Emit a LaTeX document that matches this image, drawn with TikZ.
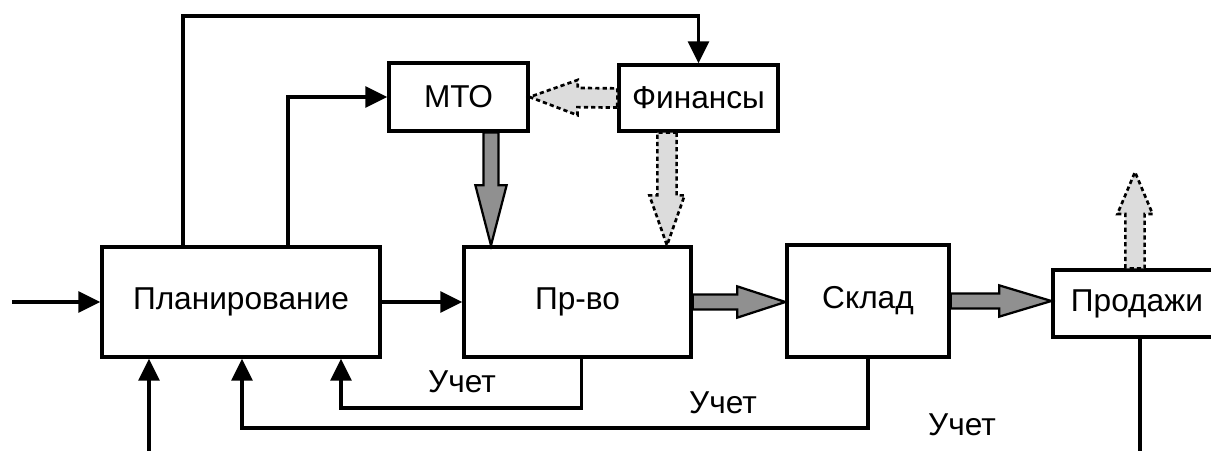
\documentclass[tikz,border=0pt]{standalone}
\usepackage{fontspec}
\setmainfont{Liberation Sans}
\usepackage{xcolor}
\usepackage{tikz}
\usetikzlibrary{arrows.meta,calc}
\definecolor{flowGrey}{HTML}{909090}
\definecolor{cashGrey}{HTML}{DCDCDC}

\tikzset{
  block/.style={draw,line width=2.3pt,inner sep=0pt,font=\fontsize{22.5}{27}\selectfont},
  note/.style={inner sep=0pt,font=\fontsize{22.5}{27}\selectfont},
  link/.style={line width=2.3pt,-{Triangle[length=5.5mm,width=5.2mm]}},
  fatarrow/.style n args={3}{to path={
      let \p1=(\tikztostart), \p2=(\tikztotarget),
          \n1={atan2(\y2-\y1,\x2-\x1)}, \n2={veclen(\x2-\x1,\y2-\y1)} in
      ($(\p1)+(\n1+90:#1)$) -- ($(\p1)+(\n1:\n2-#3)+(\n1+90:#1)$)
      -- ($(\p1)+(\n1:\n2-#3)+(\n1+90:#2)$) -- (\p2)
      -- ($(\p1)+(\n1:\n2-#3)+(\n1-90:#2)$) -- ($(\p1)+(\n1:\n2-#3)+(\n1-90:#1)$)
      -- ($(\p1)+(\n1-90:#1)$) -- cycle}},
  flow/.style={fatarrow={0.19cm}{0.39cm}{#1},draw,fill=flowGrey,line width=1.6pt},
  flow/.default=1.3cm,
  cash/.style={fatarrow={0.24cm}{0.44cm}{#1},draw,fill=cashGrey,line width=1.9pt,
    dash pattern=on 3pt off 2.2pt},
  cash/.default=1.2cm,
}

\begin{document}
\begin{tikzpicture}[x=0.025cm,y=-0.025cm]
    \useasboundingbox (0,0) rectangle (1211,451);
    \node[block,minimum width=6.95cm,minimum height=2.75cm] (plan) at (241,302) {Планирование};
    \node[block,minimum width=5.675cm,minimum height=2.75cm] (prod) at (577.5,302) {Пр-во};
    \node[block,minimum width=4.05cm,minimum height=2.8cm] (sklad) at (868,301) {Склад};
    \node[block,minimum width=4.2cm,minimum height=1.675cm] (sales) at (1137,303.5) {Продажи};
    \node[block,minimum width=3.475cm,minimum height=1.7cm] (mto) at (458.5,97) {МТО};
    \node[block,minimum width=3.975cm,minimum height=1.65cm] (fin) at (698.5,98) {Финансы};

    \node[note] (countA) at (462,382) {Учет};
    \node[note] (countB) at (723,403) {Учет};
    \node[note] (countC) at (962,425) {Учет};

    \coordinate (inlet) at (12,302);
    \coordinate (topline) at (183,16);
    \coordinate (mtoline) at (288,99);
    \coordinate (mtoout) at (491,0);
    \coordinate (finout) at (667,0);
    \coordinate (salesout) at (1135,172);
    \coordinate (loopA) at (341,408);
    \coordinate (loopB) at (242,428);
    \coordinate (loopC) at (149,453);

    \draw[link] (inlet) -- (plan.west);
    \draw[link] (plan.east) -- (prod.west);
    \draw[link] (topline |- plan.north) -- (topline) -| (fin.north);
    \draw[link] (mtoline |- plan.north) |- (mto.west);
    \draw[cash] (fin.west) to (mto.east);
    \draw[flow=1.5cm] (mtoout |- mto.south) to (mtoout |- prod.north);
    \draw[cash=1.25cm] (finout |- fin.south) to (finout |- prod.north);
    \draw[flow=1.2cm] (prod.east) to (prod.east -| sklad.west);
    \draw[flow] (sklad.east) to (sklad.east -| sales.west);
    \draw[cash=1.05cm] (salesout |- sales.north) to (salesout);

    \draw[link] ([xshift=0.1cm]prod.south) |- (loopA) -- (loopA |- plan.south);
    \draw[link] (sklad.south) |- (loopB) -- (loopB |- plan.south);
    \draw[link] ([xshift=0.075cm]sales.south) |- (loopC) -- (loopC |- plan.south);
  \end{tikzpicture}
\end{document}
